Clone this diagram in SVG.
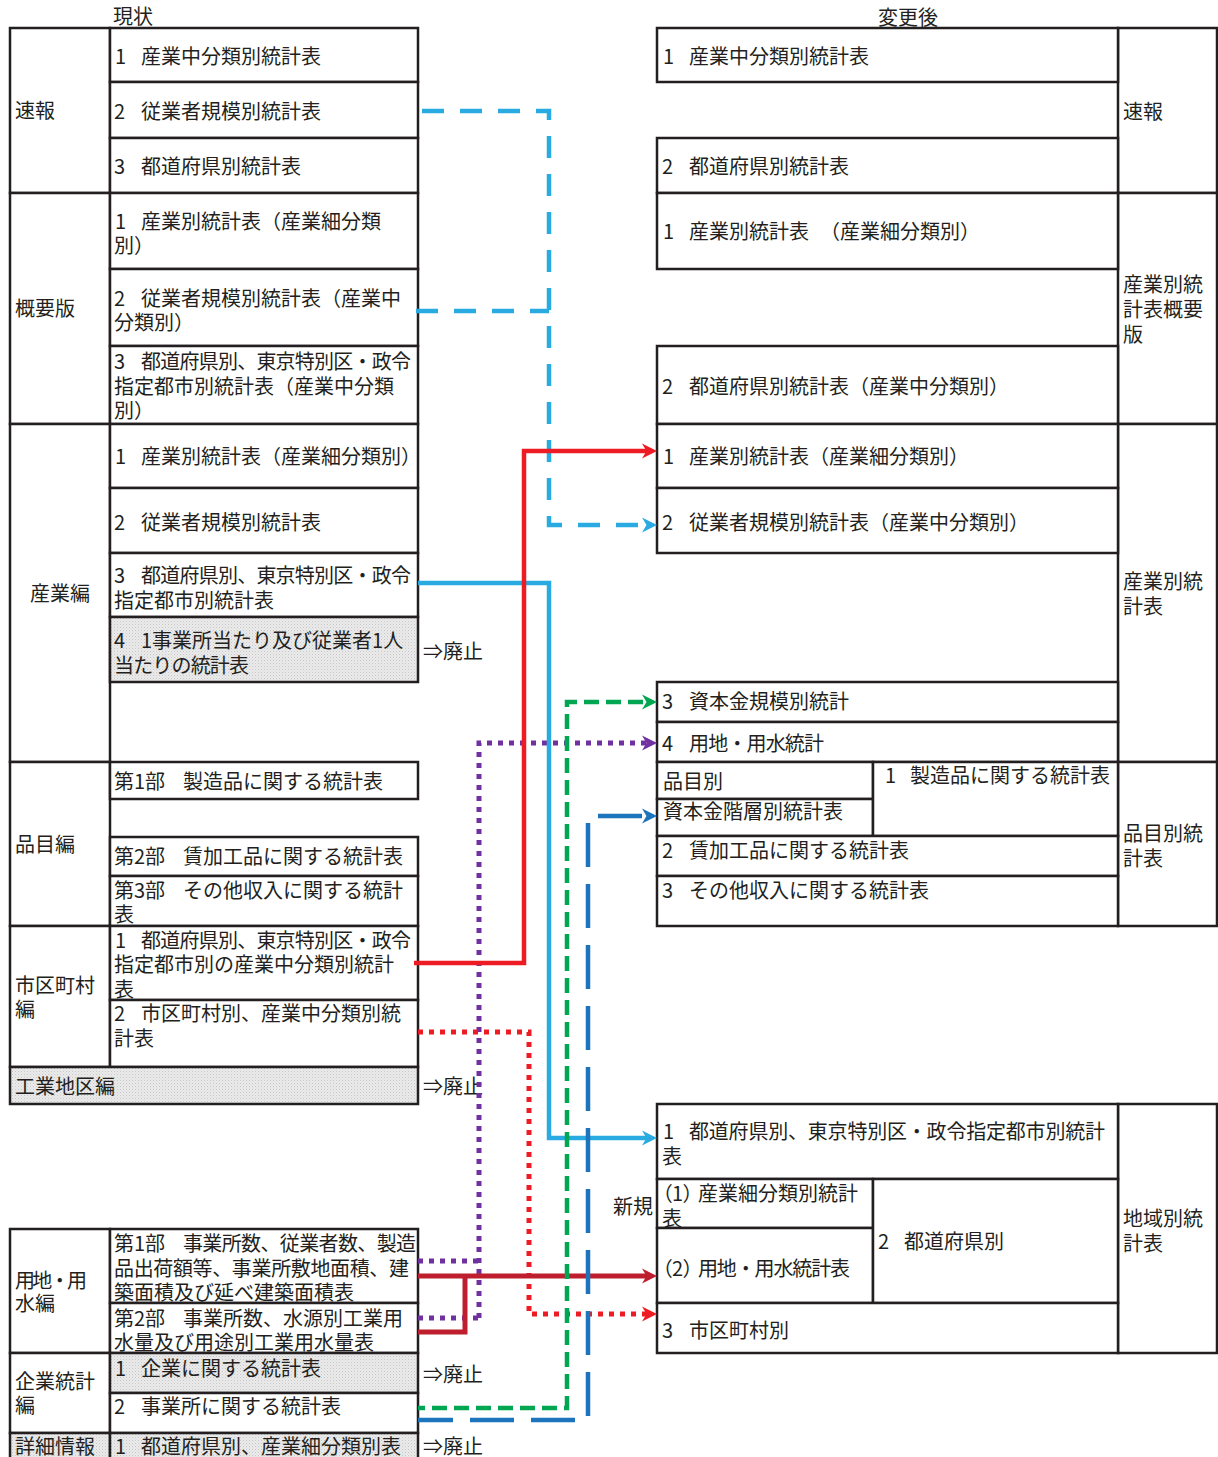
<svg xmlns="http://www.w3.org/2000/svg" width="1218" height="1457" viewBox="0 0 1218 1457">
<style>
text{font-family:"Noto Sans CJK JP","Noto Sans CJK SC",sans-serif;font-size:20px;fill:#231f20}
.c{fill:#fff;stroke:#231f20;stroke-width:2.5}
.g{fill:url(#gp);stroke:#231f20;stroke-width:2.5}
.p{font-feature-settings:"palt"}
.ln{fill:none;stroke-linejoin:miter;stroke-linecap:butt}
</style>
<defs>
<pattern id="gp" width="3" height="3" patternUnits="userSpaceOnUse"><rect width="3" height="3" fill="#ebebeb"/><rect width="1" height="1" fill="#c6c6c6"/><rect x="1.5" y="1.5" width="1" height="1" fill="#d6d6d6"/></pattern>
<marker id="aR" markerUnits="userSpaceOnUse" markerWidth="16" markerHeight="16" viewBox="0 0 16 16" refX="5" refY="8" orient="auto"><path d="M0,0.5 L15,8 L0,15.5 L4.5,8 z" fill="#ed1c24"/></marker>
<marker id="aLB" markerUnits="userSpaceOnUse" markerWidth="16" markerHeight="16" viewBox="0 0 16 16" refX="5" refY="8" orient="auto"><path d="M0,0.5 L15,8 L0,15.5 L4.5,8 z" fill="#29abe2"/></marker>
<marker id="aG" markerUnits="userSpaceOnUse" markerWidth="16" markerHeight="16" viewBox="0 0 16 16" refX="5" refY="8" orient="auto"><path d="M0,0.5 L15,8 L0,15.5 L4.5,8 z" fill="#00a651"/></marker>
<marker id="aP" markerUnits="userSpaceOnUse" markerWidth="16" markerHeight="16" viewBox="0 0 16 16" refX="5" refY="8" orient="auto"><path d="M0,0.5 L15,8 L0,15.5 L4.5,8 z" fill="#7030a0"/></marker>
<marker id="aDR" markerUnits="userSpaceOnUse" markerWidth="16" markerHeight="16" viewBox="0 0 16 16" refX="5" refY="8" orient="auto"><path d="M0,0.5 L15,8 L0,15.5 L4.5,8 z" fill="#be1e2d"/></marker>
<marker id="aB" markerUnits="userSpaceOnUse" markerWidth="16" markerHeight="16" viewBox="0 0 16 16" refX="5" refY="8" orient="auto"><path d="M0,0.5 L15,8 L0,15.5 L4.5,8 z" fill="#1c75bc"/></marker>
</defs>
<rect width="1218" height="1457" fill="#fff"/>

<text x="113" y="24">現状</text>
<text x="878" y="25">変更後</text>

<!-- LEFT TABLE -->
<g id="L-sokuhou"><rect class="c" x="10" y="28" width="100" height="165"/><text x="15" y="118">速報</text></g>
<g id="L-s1"><rect class="c" x="110" y="28" width="308" height="54"/><text x="115" y="64">1 <tspan x="141">産業中分類別統計表</tspan></text></g>
<g id="L-s2"><rect class="c" x="110" y="82" width="308" height="56"/><text x="114" y="119">2 <tspan x="141">従業者規模別統計表</tspan></text></g>
<g id="L-s3"><rect class="c" x="110" y="138" width="308" height="55"/><text x="114" y="174">3 <tspan x="141">都道府県別統計表</tspan></text></g>

<g id="L-gaiyou"><rect class="c" x="10" y="193" width="100" height="231"/><text x="15" y="316">概要版</text></g>
<g id="L-o1"><rect class="c" x="110" y="193" width="308" height="76"/><text x="115" y="229">1 <tspan x="141">産業別統計表（産業細分類</tspan></text><text x="114" y="253">別）</text></g>
<g id="L-o2"><rect class="c" x="110" y="269" width="308" height="77"/><text x="114" y="306">2 <tspan x="141">従業者規模別統計表（産業中</tspan></text><text x="114" y="330">分類別）</text></g>
<g id="L-o3"><rect class="c" x="110" y="346" width="308" height="78"/><text x="114" y="369">3 <tspan x="141" textLength="270" lengthAdjust="spacing">都道府県別、東京特別区・政令</tspan></text><text x="114" y="394">指定都市別統計表（産業中分類</text><text x="114" y="418">別）</text></g>

<g id="L-sangyou"><rect class="c" x="10" y="424" width="100" height="338"/><text x="30" y="601">産業編</text></g>
<g id="L-i1"><rect class="c" x="110" y="424" width="308" height="64"/><text x="115" y="464">1 <tspan x="141">産業別統計表（産業細分類別）</tspan></text></g>
<g id="L-i2"><rect class="c" x="110" y="488" width="308" height="65"/><text x="114" y="530">2 <tspan x="141">従業者規模別統計表</tspan></text></g>
<g id="L-i3"><rect class="c" x="110" y="553" width="308" height="64"/><text x="114" y="583">3 <tspan x="141" textLength="270" lengthAdjust="spacing">都道府県別、東京特別区・政令</tspan></text><text x="114" y="608">指定都市別統計表</text></g>
<g id="L-i4"><rect class="g" x="110" y="617" width="308" height="65"/><text x="114" y="648">4 <tspan x="141">1事業所当たり及び従業者1人</tspan></text><text x="114" y="673" textLength="135" lengthAdjust="spacing">当たりの統計表</text><text x="423" y="659">⇒廃止</text></g>

<g id="L-hinmoku"><rect class="c" x="10" y="762" width="100" height="164"/><text x="15" y="852">品目編</text></g>
<g id="L-h1"><rect class="c" x="110" y="762" width="308" height="37"/><text x="114" y="789">第1部 <tspan x="183">製造品に関する統計表</tspan></text></g>
<g id="L-h2"><rect class="c" x="110" y="837" width="308" height="39"/><text x="114" y="864">第2部 <tspan x="183">賃加工品に関する統計表</tspan></text></g>
<g id="L-h3"><rect class="c" x="110" y="876" width="308" height="50"/><text x="114" y="898">第3部 <tspan x="183">その他収入に関する統計</tspan></text><text x="114" y="922">表</text></g>

<g id="L-shiku"><rect class="c" x="10" y="926" width="100" height="141"/><text x="15" y="993">市区町村</text><text x="15" y="1017">編</text></g>
<g id="L-m1"><rect class="c" x="110" y="926" width="308" height="74"/><text x="115" y="948">1 <tspan x="141" textLength="270" lengthAdjust="spacing">都道府県別、東京特別区・政令</tspan></text><text x="114" y="972">指定都市別の産業中分類別統計</text><text x="114" y="997">表</text></g>
<g id="L-m2"><rect class="c" x="110" y="1000" width="308" height="67"/><text x="114" y="1021">2 <tspan x="141">市区町村別、産業中分類別統</tspan></text><text x="114" y="1046">計表</text></g>

<g id="L-kougyou"><rect class="g" x="10" y="1067" width="408" height="37"/><text x="15" y="1094">工業地区編</text><text x="423" y="1094">⇒廃止</text></g>

<g id="L-youchi"><rect class="c" x="10" y="1229" width="100" height="124"/><text x="15" y="1288" textLength="72" lengthAdjust="spacing">用地・用</text><text x="15" y="1311">水編</text></g>
<g id="L-y1"><rect class="c" x="110" y="1229" width="308" height="74"/><text x="114" y="1251">第1部 <tspan x="183" textLength="233" lengthAdjust="spacing">事業所数、従業者数、製造</tspan></text><text x="114" y="1276" textLength="295" lengthAdjust="spacing">品出荷額等、事業所敷地面積、建</text><text x="114" y="1300">築面積及び延べ建築面積表</text></g>
<g id="L-y2"><rect class="c" x="110" y="1303" width="308" height="50"/><text x="114" y="1326">第2部 <tspan x="183">事業所数、水源別工業用</tspan></text><text x="114" y="1350">水量及び用途別工業用水量表</text></g>

<g id="L-kigyou"><rect class="c" x="10" y="1353" width="100" height="80"/><text x="15" y="1389">企業統計</text><text x="15" y="1413">編</text></g>
<g id="L-k1"><rect class="g" x="110" y="1353" width="308" height="40"/><text x="115" y="1376">1 <tspan x="141">企業に関する統計表</tspan></text><text x="423" y="1382">⇒廃止</text></g>
<g id="L-k2"><rect class="c" x="110" y="1393" width="308" height="40"/><text x="114" y="1414">2 <tspan x="141">事業所に関する統計表</tspan></text></g>

<g id="L-shousai"><rect class="g" x="10" y="1433" width="100" height="30"/><text x="15" y="1454">詳細情報</text></g>
<g id="L-d1"><rect class="g" x="110" y="1433" width="308" height="30"/><text x="115" y="1454">1 <tspan x="141">都道府県別、産業細分類別表</tspan></text><text x="423" y="1454">⇒廃止</text></g>

<!-- RIGHT TABLE -->
<g id="R-sokuhou"><rect class="c" x="1118" y="28" width="99" height="165"/><text x="1123" y="119">速報</text></g>
<g id="R-s1"><rect class="c" x="657" y="28" width="461" height="54"/><text x="663" y="64">1 <tspan x="689">産業中分類別統計表</tspan></text></g>
<g id="R-s2"><rect class="c" x="657" y="138" width="461" height="55"/><text x="662" y="174">2 <tspan x="689">都道府県別統計表</tspan></text></g>

<g id="R-gaiyou"><rect class="c" x="1118" y="193" width="99" height="231"/><text x="1123" y="292">産業別統</text><text x="1123" y="317">計表概要</text><text x="1123" y="342">版</text></g>
<g id="R-o1"><rect class="c" x="657" y="193" width="461" height="76"/><text x="663" y="239">1 <tspan x="689">産業別統計表</tspan> <tspan x="820">（産業細分類別）</tspan></text></g>
<g id="R-o2"><rect class="c" x="657" y="346" width="461" height="78"/><text x="662" y="394">2 <tspan x="689">都道府県別統計表（産業中分類別）</tspan></text></g>

<g id="R-sangyou"><rect class="c" x="1118" y="424" width="99" height="338"/><text x="1123" y="589">産業別統</text><text x="1123" y="614">計表</text></g>
<g id="R-i1"><rect class="c" x="657" y="424" width="461" height="64"/><text x="663" y="464">1 <tspan x="689">産業別統計表（産業細分類別）</tspan></text></g>
<g id="R-i2"><rect class="c" x="657" y="488" width="461" height="65"/><text x="662" y="530">2 <tspan x="689">従業者規模別統計表（産業中分類別）</tspan></text></g>
<g id="R-i3"><rect class="c" x="657" y="682" width="461" height="40"/><text x="662" y="709">3 <tspan x="689">資本金規模別統計</tspan></text></g>
<g id="R-i4"><rect class="c" x="657" y="722" width="461" height="40"/><text x="662" y="751">4 <tspan x="689" textLength="135" lengthAdjust="spacing">用地・用水統計</tspan></text></g>

<g id="R-hinmoku"><rect class="c" x="1118" y="762" width="99" height="164"/><text x="1123" y="841">品目別統</text><text x="1123" y="866">計表</text></g>
<g id="R-h0"><rect class="c" x="657" y="762" width="216" height="37"/><text x="663" y="789">品目別</text></g>
<g id="R-h0b"><rect class="c" x="657" y="799" width="216" height="37"/><text x="663" y="819">資本金階層別統計表</text></g>
<g id="R-h1"><rect class="c" x="873" y="762" width="245" height="74"/><text x="885" y="783">1 <tspan x="910">製造品に関する統計表</tspan></text></g>
<g id="R-h2"><rect class="c" x="657" y="836" width="461" height="40"/><text x="662" y="858">2 <tspan x="689">賃加工品に関する統計表</tspan></text></g>
<g id="R-h3"><rect class="c" x="657" y="876" width="461" height="50"/><text x="662" y="898">3 <tspan x="689">その他収入に関する統計表</tspan></text></g>

<g id="R-chiiki"><rect class="c" x="1118" y="1104" width="99" height="249"/><text x="1123" y="1226">地域別統</text><text x="1123" y="1251">計表</text></g>
<g id="R-c1"><rect class="c" x="657" y="1104" width="461" height="75"/><text x="663" y="1139">1 <tspan x="689" textLength="416" lengthAdjust="spacing">都道府県別、東京特別区・政令指定都市別統計</tspan></text><text x="662" y="1164">表</text></g>
<g id="R-c1a"><rect class="c" x="657" y="1179" width="216" height="49"/><text x="662" y="1201"><tspan class="p">（1）</tspan><tspan x="698">産業細分類別統計</tspan></text><text x="662" y="1226">表</text></g>
<g id="R-c1b"><rect class="c" x="657" y="1228" width="216" height="75"/><text x="662" y="1276"><tspan class="p">（2）</tspan><tspan x="698" textLength="152" lengthAdjust="spacing">用地・用水統計表</tspan></text></g>
<g id="R-c2"><rect class="c" x="873" y="1179" width="245" height="124"/><text x="878" y="1249">2 <tspan x="904">都道府県別</tspan></text></g>
<g id="R-c3"><rect class="c" x="657" y="1303" width="461" height="50"/><text x="662" y="1338">3 <tspan x="689">市区町村別</tspan></text></g>
<g id="R-shinki"><text x="613" y="1214">新規</text></g>

<!-- CONNECTORS -->
<g id="connectors">
<path class="ln" d="M418,1261 H479 M418,1318 H479 M479,1318 V743 H647" stroke="#7030a0" stroke-width="5" stroke-dasharray="5 6" marker-end="url(#aP)"/>
<path class="ln" d="M418,1032 H529 V1314 H647" stroke="#ed1c24" stroke-width="5" stroke-dasharray="5 6" marker-end="url(#aR)"/>
<path class="ln" d="M416,311 H549" stroke="#29abe2" stroke-width="4.5" stroke-dasharray="22 16"/>
<path class="ln" d="M418,111 H549 V525 H647" stroke="#29abe2" stroke-width="4.5" stroke-dasharray="22 16" stroke-dashoffset="34" marker-end="url(#aLB)"/>
<path class="ln" d="M418,583 H549 V1138 H647" stroke="#29abe2" stroke-width="4.5" marker-end="url(#aLB)"/>
<path class="ln" d="M414,963 H524 V451 H647" stroke="#ed1c24" stroke-width="4.5" marker-end="url(#aR)"/>
<path class="ln" d="M418,1332 H465 V1276" stroke="#be1e2d" stroke-width="5"/>
<path class="ln" d="M418,1276 H647" stroke="#be1e2d" stroke-width="5" marker-end="url(#aDR)"/>
<path class="ln" d="M418,1408 H567 V702 H647" stroke="#00a651" stroke-width="4.5" stroke-dasharray="15 7" stroke-dashoffset="8" marker-end="url(#aG)"/>
<path class="ln" d="M418,1420 H588 V816 H647" stroke="#1c75bc" stroke-width="4.5" stroke-dasharray="44 17" stroke-dashoffset="9" marker-end="url(#aB)"/>
</g>
</svg>
